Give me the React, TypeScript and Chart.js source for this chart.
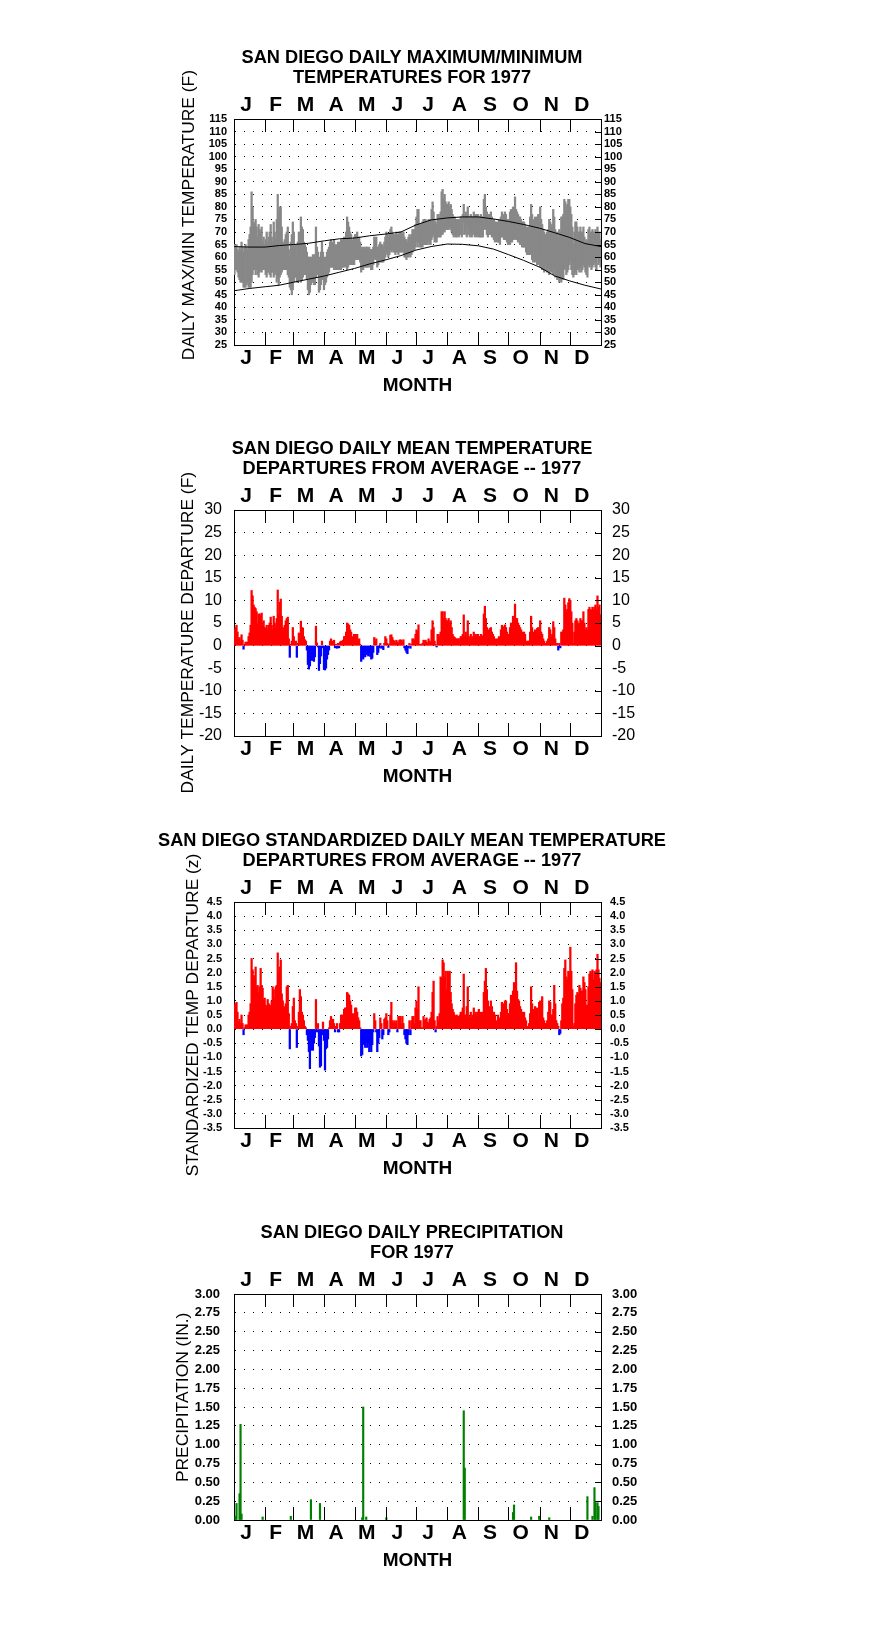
import React, { useEffect, useRef } from 'react';
import { Chart, registerables } from 'chart.js';

Chart.register(...registerables);

const FONT = '"Liberation Sans", Arial, Helvetica, sans-serif';

const MONTH_LABELS = ['J', 'F', 'M', 'A', 'M', 'J', 'J', 'A', 'S', 'O', 'N', 'D'];
const MONTH_STARTS = [0, 31, 59, 90, 120, 151, 181, 212, 243, 273, 304, 334, 365];

// Normal (average) daily max / min temperature, read at these days of the year
const NORMAL_DAYS = [0, 15, 31, 45, 59, 74, 90, 105, 120, 135, 151, 166, 181, 196, 212, 227, 243, 258, 273, 288, 304, 319, 334, 349, 365];
const NORMAL_MAX = [64.2, 64.0, 64.0, 64.6, 65.0, 65.5, 66.5, 67.3, 67.6, 68.5, 69.2, 70.0, 72.8, 74.8, 75.6, 76.0, 76.0, 75.2, 74.2, 73.0, 71.5, 69.7, 67.8, 65.4, 64.2];
const NORMAL_MIN = [46.6, 47.5, 48.2, 48.8, 50.0, 51.2, 52.5, 54.0, 55.5, 57.3, 58.9, 60.6, 62.8, 64.2, 65.2, 65.1, 64.5, 63.2, 61.0, 58.7, 56.0, 52.5, 50.5, 48.8, 47.3];

// Daily observed max / min temperature 1977 (F)
const DAILY_MAX = [
  65,64,65,63,62,64,63,66,64,62,64,65,64,63,67,69,72,86,80,74,73,75,72,68,73,71,70,72,66,68,65,
  67,70,66,68,70,73,68,66,74,70,67,75,85,78,80,80,72,66,65,67,69,70,72,63,59,66,69,74,
  70,64,65,60,66,70,68,76,72,71,66,65,64,62,60,60,60,60,59,61,59,61,72,64,62,58,60,62,66,62,58,
  60,60,62,63,64,66,67,66,65,67,64,65,64,66,64,66,67,66,67,68,67,70,76,74,72,70,69,67,66,68,
  69,69,70,67,68,66,63,64,63,64,63,64,64,63,64,63,63,63,64,68,67,68,64,64,65,66,65,65,64,66,68,
  70,69,68,69,71,72,70,69,69,69,70,69,69,70,70,70,69,70,68,67,67,66,68,69,68,69,71,71,71,73,
  76,79,79,73,73,73,74,75,74,75,74,74,75,75,75,79,82,78,75,74,73,77,77,76,78,86,87,83,85,82,81,
  81,82,80,81,79,77,76,76,75,75,75,75,75,76,76,77,81,76,78,76,80,76,75,77,75,76,78,76,77,76,77,
  76,76,77,76,76,83,85,80,78,77,77,77,78,76,75,75,74,74,73,74,75,74,76,78,77,75,78,77,75,75,
  75,78,79,77,80,78,84,79,78,77,76,76,75,74,74,74,73,72,71,72,72,76,81,77,75,73,76,73,76,77,74,
  80,75,73,71,70,69,69,70,71,75,74,72,73,79,76,71,69,70,68,71,70,76,76,77,83,82,80,81,83,83,
  80,77,72,65,70,74,74,72,70,70,72,70,70,72,68,66,67,66,71,72,70,70,71,70,70,71,70,72,70,70,67
];
const DAILY_MIN = [
  53,55,55,54,52,51,50,50,50,48,48,48,49,50,48,48,48,50,53,55,55,53,55,53,52,54,55,54,55,55,55,
  53,52,54,54,53,52,54,54,52,53,54,50,52,49,52,53,54,55,55,55,55,55,53,52,48,47,45,47,
  50,52,52,50,50,51,52,50,51,52,53,53,53,51,47,45,46,49,50,50,49,49,52,53,53,46,47,49,51,52,47,
  49,50,52,53,54,56,56,56,56,55,55,56,55,55,55,56,55,56,56,56,57,56,55,56,57,57,57,57,57,57,
  60,59,59,59,59,58,54,55,55,56,56,56,56,56,57,56,55,55,57,60,59,59,56,57,58,59,58,58,58,59,60,
  62,61,60,61,63,62,63,62,62,61,62,62,61,62,62,62,62,62,60,60,59,60,60,61,60,61,62,63,63,64,
  66,64,66,64,64,64,64,65,65,65,65,65,66,65,65,67,68,69,66,66,66,68,68,68,68,69,69,70,70,71,71,
  71,71,72,71,70,69,68,69,68,68,69,68,69,69,68,69,74,69,70,68,72,69,68,70,68,69,70,68,69,68,69,
  68,68,68,68,68,71,72,71,69,68,69,69,69,68,68,67,66,67,66,66,66,65,68,68,68,67,67,67,66,65,
  65,65,66,66,67,67,68,67,67,66,66,65,65,64,64,64,64,62,61,61,61,61,63,59,58,60,58,59,57,58,57,
  56,57,55,56,54,57,55,54,56,53,55,54,54,53,55,52,53,51,52,50,51,50,52,51,55,56,53,54,55,57,
  58,55,53,52,53,54,53,55,55,54,56,54,55,57,56,54,53,52,57,56,57,55,56,57,58,56,55,60,57,58,56
];

// Daily mean temperature departure from average (F)
const DEPARTURE = [
  3.5,4.0,4.5,3.0,1.5,1.8,1.0,2.4,1.2,-0.8,0.3,0.8,0.7,0.8,2.0,2.8,4.5,12.2,11.0,9.0,8.5,8.2,7.5,4.8,7.0,7.0,6.6,7.2,4.5,5.5,4.0,
  3.8,4.5,3.5,4.5,5.0,6.3,4.5,3.5,6.5,5.0,4.0,6.0,12.3,7.0,9.6,10.3,6.5,4.0,3.5,4.5,5.5,6.0,6.3,1.5,-2.6,0.3,1.0,4.0,
  2.0,0.5,1.0,-2.6,0.5,2.8,2.5,5.4,4.0,3.9,2.0,1.3,1.0,-1.0,-4.2,-5.2,-4.5,-3.0,-3.3,-2.0,-3.5,-2.5,4.3,0.6,-0.3,-5.5,-4.0,-2.3,1.0,-0.5,-5.3,
  -5.4,-5.0,-3.0,-2.0,-1.0,1.0,1.5,1.0,0.5,1.2,-0.5,0.3,-0.6,0.5,-0.5,0.8,1.0,0.8,1.2,2.0,2.0,3.0,5.0,4.8,4.5,3.5,3.0,2.0,1.5,2.5,
  2.5,2.2,2.5,1.0,1.5,0.3,-3.5,-2.5,-3.0,-2.0,-2.5,-2.0,-1.8,-2.3,-1.5,-2.4,-3.0,-2.8,-1.5,1.8,1.0,1.5,-2.0,-1.5,-0.5,0.5,-0.6,-0.3,-0.9,0.5,2.0,
  1.5,0.5,-0.4,0.3,2.3,2.4,1.8,1.2,1.0,0.6,1.2,0.8,0.5,1.2,1.3,1.2,0.8,1.3,-0.5,-1.0,-1.5,-1.8,-0.5,0.5,-0.6,0.3,1.5,1.5,1.2,2.5,
  3.5,3.2,4.6,0.3,0.3,0.2,0.5,1.2,1.0,1.2,0.8,0.5,1.5,1.0,0.8,3.5,5.5,4.0,1.0,0.3,-0.3,2.5,2.5,2.0,3.0,7.5,7.5,6.0,7.5,6.0,5.5,
  5.5,6.0,5.0,5.5,4.0,2.5,2.0,1.8,1.5,1.5,1.5,1.5,1.5,2.0,2.0,2.5,6.8,2.0,3.0,2.0,5.5,2.0,1.5,2.5,1.5,2.0,3.0,2.0,2.5,2.0,2.5,
  2.0,2.0,2.5,2.0,2.2,7.0,8.7,6.0,4.0,3.0,3.5,3.8,4.0,3.0,2.5,2.0,1.0,1.5,0.8,1.5,2.0,1.0,3.5,4.5,4.2,3.0,4.6,4.0,3.0,2.5,
  2.5,4.0,5.0,4.5,6.5,5.5,9.2,6.0,6.0,5.0,4.5,4.0,3.5,3.0,2.8,3.0,2.5,1.0,0.5,1.0,1.0,3.0,6.5,4.0,3.0,2.0,3.5,2.0,3.8,4.0,2.5,
  5.5,3.0,2.5,1.5,1.0,0.5,0.5,1.0,1.5,4.0,3.5,2.0,2.5,5.3,4.0,1.5,0.3,0.5,-1.0,0.5,-0.5,3.0,3.0,3.5,10.5,9.0,7.5,8.0,9.5,10.4,
  10.0,7.5,5.0,0.5,3.0,5.5,6.0,5.5,4.8,5.0,6.0,5.5,5.5,7.5,5.0,3.5,4.0,3.5,8.0,8.5,8.0,7.8,8.5,8.0,8.5,9.0,8.0,11.0,8.5,9.0,6.8
];

// Standardized daily mean temperature departure (z)
const STD_DEPARTURE = [
  0.85,0.9,0.95,0.6,0.25,0.35,0.2,0.5,0.2,-0.2,0.05,0.15,0.15,0.15,0.5,0.6,0.9,2.5,2.1,1.9,1.85,2.2,1.5,1.55,1.3,1.5,2.15,1.55,1.45,1.05,1.1,
  0.85,0.8,1.05,0.9,0.85,0.8,1.0,1.5,1.4,1.1,1.5,1.55,2.7,2.0,2.2,2.45,1.25,1.0,0.8,0.75,0.9,1.5,1.55,0.55,-0.7,0.1,0.2,0.8,
  1.1,0.3,0.2,-0.65,0.1,0.6,1.4,1.15,0.6,0.5,0.3,0.1,0.05,-0.2,-0.4,-0.8,-1.4,-0.75,-0.7,-0.75,-0.5,-0.3,1.05,-0.1,0.2,-0.6,-1.35,-1.3,-0.2,0.25,-0.4,
  -1.45,-0.7,-0.65,-0.35,0.05,0.3,0.45,0.3,0.35,0.2,-0.1,0.1,0.2,-0.1,-0.1,0.2,0.5,0.5,0.45,0.7,0.75,0.75,1.3,1.25,1.2,1.0,0.85,0.55,0.4,0.55,
  0.75,0.75,0.6,0.4,0.3,0.05,-0.95,-0.9,-0.5,-0.55,-0.65,-0.45,-0.65,-0.5,-0.8,-0.6,-0.8,-0.55,-0.1,0.55,0.3,-0.1,-0.8,-0.5,-0.3,0.4,0.2,-0.35,-0.2,0.35,0.4,
  0.55,0.3,-0.2,-0.1,0.5,0.95,0.3,0.2,0.3,0.2,0.3,-0.1,0.45,0.45,0.45,0.2,0.45,0.2,-0.2,-0.35,-0.5,-0.55,-0.2,0.3,-0.2,0.3,0.45,0.45,0.2,0.75,
  1.0,0.7,1.5,0.3,0.3,0.05,0.05,0.45,0.3,0.35,0.4,0.25,0.2,0.35,0.4,0.6,1.3,1.7,0.3,-0.1,0.1,0.45,0.3,0.55,1.85,1.8,2.45,2.35,1.85,2.05,1.4,
  2.05,2.0,2.05,1.3,0.9,0.7,0.6,0.5,0.45,0.5,0.45,0.45,0.5,0.6,0.6,0.75,1.95,0.5,0.5,0.8,1.5,0.4,0.45,0.6,0.4,0.5,0.75,0.5,0.6,0.4,0.6,
  0.7,0.55,0.6,0.5,0.6,1.3,1.7,2.15,1.4,1.0,0.8,0.7,1.0,0.8,0.6,0.6,0.5,0.3,0.2,0.5,0.4,0.2,0.6,0.95,0.9,0.6,1.0,1.0,0.7,0.55,
  0.55,0.9,1.2,1.0,1.35,1.65,1.35,2.35,1.35,1.05,1.0,0.8,0.7,0.6,0.5,0.6,0.4,0.3,0.1,0.1,0.2,0.55,1.5,0.9,0.7,0.5,0.8,0.5,0.75,0.4,0.95,
  1.0,0.6,1.15,0.4,0.3,0.2,0.2,0.3,0.6,1.0,0.95,0.5,0.5,0.7,1.55,0.9,0.3,0.2,0.1,-0.2,-0.15,0.3,0.9,1.1,2.15,2.45,1.85,1.75,2.05,2.0,
  2.9,2.05,1.4,0.1,0.2,0.9,1.2,1.3,1.25,1.55,1.45,1.35,1.35,1.85,1.65,1.4,0.85,0.85,1.5,1.95,2.05,2.0,2.1,1.75,2.05,2.0,2.1,2.65,2.1,1.8,1.65
];

// Daily precipitation (in.), days of the year with measurable rain
const PRECIP_DAYS = [1, 2, 5, 6, 7, 28, 56, 76, 85, 127, 128, 131, 151, 228, 229, 277, 278, 295, 303, 313, 351, 356, 358, 359, 361, 362];
const PRECIP_VALUES = [0.05, 0.22, 0.35, 1.27, 0.08, 0.04, 0.05, 0.27, 0.22, 0.03, 1.5, 0.04, 0.03, 1.45, 0.69, 0.1, 0.2, 0.04, 0.05, 0.03, 0.31, 0.05, 0.43, 0.23, 0.23, 0.18];

const CANVAS_TOPS = [0, 391, 783, 1175];
const CANVAS_W = 876;
const CANVAS_H = 420;

const frameTicks = {
  id: 'frameTicks',
  afterDraw(chart: any) {
    const { ctx, chartArea: a, scales } = chart;
    const xs = scales.x;
    const yr = scales.yRight;
    ctx.save();
    ctx.strokeStyle = '#000';
    ctx.lineWidth = 1;
    ctx.beginPath();
    for (let i = 1; i < MONTH_STARTS.length - 1; i++) {
      const px = Math.round(xs.getPixelForValue(MONTH_STARTS[i])) + 0.5;
      ctx.moveTo(px, a.top);
      ctx.lineTo(px, a.top + 13);
      ctx.moveTo(px, a.bottom);
      ctx.lineTo(px, a.bottom - 13);
    }
    yr.ticks.forEach((t: any) => {
      const py = Math.round(yr.getPixelForValue(t.value)) + 0.5;
      ctx.moveTo(a.right - 6, py);
      ctx.lineTo(a.right, py);
    });
    ctx.stroke();
    ctx.restore();
  },
};

type Spec = {
  title: string[];
  yTitle: string;
  yTitleX: number;
  min: number;
  max: number;
  step: number;
  decimals: number;
  tickSize: number;
  tickWeight: string;
  leftPad: number;
  rightPad: number;
  datasets: any[];
};

function buildConfig(s: Spec): any {
  const monthCenters = MONTH_LABELS.map((_, i) => (MONTH_STARTS[i] + MONTH_STARTS[i + 1]) / 2 - 3.5);
  const monthFont = { family: FONT, size: 21, weight: 'bold', lineHeight: 1 };
  const xCommon = {
    type: 'linear',
    min: 0,
    max: 365,
    offset: false,
    grid: { display: false, drawTicks: false },
    border: { display: true, color: '#000', width: 1 },
    afterBuildTicks: (scale: any) => {
      scale.ticks = monthCenters.map((v) => ({ value: v }));
    },
    ticks: {
      autoSkip: false,
      maxRotation: 0,
      minRotation: 0,
      padding: 3,
      color: '#000',
      font: monthFont,
      callback: (_v: any, i: number) => MONTH_LABELS[i],
    },
  };
  const yTicks = (pad: number) => ({
    stepSize: s.step,
    maxTicksLimit: 100,
    autoSkip: false,
    padding: pad,
    color: '#000',
    font: { family: FONT, size: s.tickSize, weight: s.tickWeight, lineHeight: 1 },
    callback: (v: any) => Number(v).toFixed(s.decimals),
  });
  return {
    type: 'bar',
    data: { datasets: s.datasets },
    options: {
      responsive: false,
      animation: false,
      devicePixelRatio: 1,
      events: [],
      layout: { padding: { left: 0, right: 52, top: 0, bottom: 0 } },
      plugins: {
        legend: { display: false },
        tooltip: { enabled: false },
        title: {
          display: true,
          text: s.title,
          color: '#000',
          font: { family: FONT, size: 18.2, weight: 'bold', lineHeight: '20px' },
          padding: { top: 47.5, bottom: 0 },
        },
      },
      scales: {
        x: {
          ...xCommon,
          position: 'bottom',
          afterFit: (sc: any) => {
            sc.height = CANVAS_H - 345;
          },
          title: {
            display: true,
            text: 'MONTH',
            color: '#000',
            font: { family: FONT, size: 19, weight: 'bold', lineHeight: '20px' },
            padding: { top: 0, bottom: CANVAS_H - 396 },
          },
        },
        xTop: {
          ...xCommon,
          axis: 'x',
          position: 'top',
          afterFit: (sc: any) => {
            sc.height = 31.5;
          },
        },
        y: {
          type: 'linear',
          position: 'left',
          min: s.min,
          max: s.max,
          ticks: yTicks(s.leftPad),
          grid: { display: true, drawTicks: false, color: '#000', lineWidth: 1 },
          border: { display: true, color: '#000', width: 1, dash: [1, 8] },
          title: {
            display: true,
            text: s.yTitle,
            color: '#000',
            font: { family: FONT, size: 17.4, weight: 'normal', lineHeight: 1 },
            padding: { top: s.yTitleX - 8.7, bottom: 0 },
          },
          afterFit: (sc: any) => {
            sc.width = 234;
          },
        },
        yRight: {
          type: 'linear',
          position: 'right',
          min: s.min,
          max: s.max,
          ticks: yTicks(s.rightPad),
          grid: { display: false, drawTicks: false },
          border: { display: true, color: '#000', width: 1 },
          afterFit: (sc: any) => {
            sc.width = 223;
          },
        },
      },
    },
    plugins: [frameTicks],
  };
}

function specs(): Spec[] {
  const normalLine = (vals: number[]) => ({
    type: 'line',
    data: NORMAL_DAYS.map((d, i) => ({ x: d, y: vals[i] })),
    borderColor: '#000',
    borderWidth: 1,
    pointRadius: 0,
    fill: false,
    tension: 0,
  });
  return [
    {
      title: ['SAN DIEGO DAILY MAXIMUM/MINIMUM', 'TEMPERATURES FOR 1977'],
      yTitle: '       DAILY MAX/MIN TEMPERATURE (F)',
      yTitleX: 189,
      min: 25,
      max: 115,
      step: 5,
      decimals: 0,
      tickSize: 11,
      tickWeight: 'bold',
      leftPad: 7,
      rightPad: 3,
      datasets: [
        normalLine(NORMAL_MAX),
        normalLine(NORMAL_MIN),
        {
          type: 'bar',
          data: DAILY_MAX.map((v, i) => ({ x: i + 0.5, y: [DAILY_MIN[i], v] })),
          backgroundColor: '#888888',
          borderWidth: 0,
          barThickness: 1.6,
        },
      ],
    },
    {
      title: ['SAN DIEGO DAILY MEAN TEMPERATURE', 'DEPARTURES FROM AVERAGE -- 1977'],
      yTitle: 'DAILY TEMPERATURE DEPARTURE (F)    ',
      yTitleX: 188,
      min: -20,
      max: 30,
      step: 5,
      decimals: 0,
      tickSize: 16,
      tickWeight: 'normal',
      leftPad: 12,
      rightPad: 11,
      datasets: [
        {
          type: 'bar',
          data: DEPARTURE.map((v, i) => ({ x: i + 0.5, y: v })),
          backgroundColor: DEPARTURE.map((v) => (v >= 0 ? '#ff0000' : '#0000ff')),
          borderWidth: 0,
          barThickness: 1.6,
        },
      ],
    },
    {
      title: ['SAN DIEGO STANDARDIZED DAILY MEAN TEMPERATURE', 'DEPARTURES FROM AVERAGE -- 1977'],
      yTitle: 'STANDARDIZED TEMP DEPARTURE (z)',
      yTitleX: 193,
      min: -3.5,
      max: 4.5,
      step: 0.5,
      decimals: 1,
      tickSize: 11,
      tickWeight: 'bold',
      leftPad: 12,
      rightPad: 9,
      datasets: [
        {
          type: 'bar',
          data: STD_DEPARTURE.map((v, i) => ({ x: i + 0.5, y: v })),
          backgroundColor: STD_DEPARTURE.map((v) => (v >= 0 ? '#ff0000' : '#0000ff')),
          borderWidth: 0,
          barThickness: 1.6,
        },
      ],
    },
    {
      title: ['SAN DIEGO DAILY PRECIPITATION', 'FOR 1977'],
      yTitle: '    PRECIPITATION (IN.)',
      yTitleX: 183,
      min: 0,
      max: 3,
      step: 0.25,
      decimals: 2,
      tickSize: 13,
      tickWeight: 'bold',
      leftPad: 14,
      rightPad: 11,
      datasets: [
        {
          type: 'bar',
          data: PRECIP_DAYS.map((d, i) => ({ x: d + 0.5, y: PRECIP_VALUES[i] })),
          backgroundColor: '#008000',
          borderWidth: 0,
          barThickness: 1.5,
        },
      ],
    },
  ];
}

export default function App() {
  const canvases = useRef<(HTMLCanvasElement | null)[]>([]);
  useEffect(() => {
    const list = specs();
    const charts = list.map((s, i) => new Chart(canvases.current[i] as HTMLCanvasElement, buildConfig(s)));
    return () => charts.forEach((c) => c.destroy());
  }, []);
  return (
    <div style={{ position: 'absolute', left: 0, top: 0, width: CANVAS_W, height: 1634, background: '#fff' }}>
      {CANVAS_TOPS.map((t, i) => (
        <canvas
          key={i}
          ref={(el) => {
            canvases.current[i] = el;
          }}
          width={CANVAS_W}
          height={CANVAS_H}
          style={{ position: 'absolute', left: 0, top: t, width: CANVAS_W, height: CANVAS_H }}
        />
      ))}
    </div>
  );
}
